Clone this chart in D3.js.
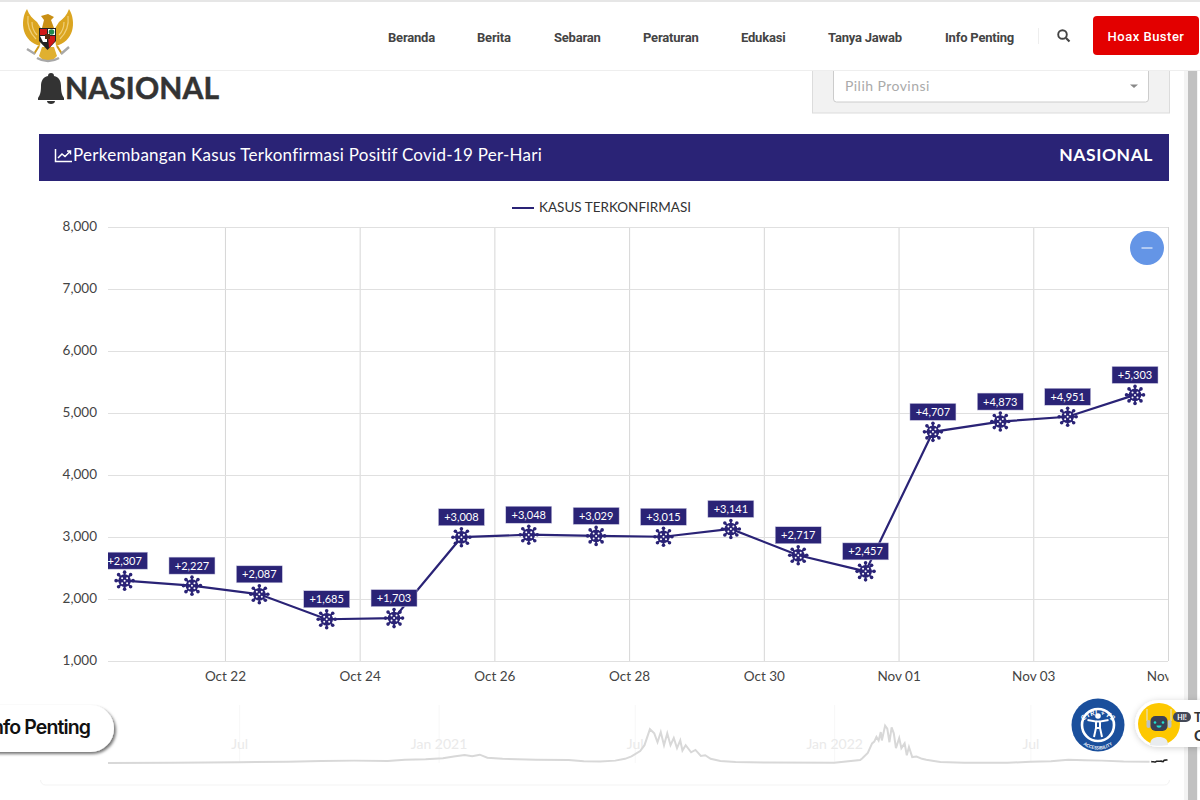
<!DOCTYPE html>
<html>
<head>
<meta charset="utf-8">
<style>
  html, body { margin: 0; padding: 0; background: #fff; overflow: hidden; }
  svg { display: block; }
  text { font-family: Lato, sans-serif; }
</style>
<script src="https://cdn.jsdelivr.net/npm/d3@7"></script>
</head>
<body>
<svg id="page" width="1200" height="800"></svg>
<script>
var dailyDates = ['2022-10-20','2022-10-21','2022-10-22','2022-10-23','2022-10-24','2022-10-25','2022-10-26','2022-10-27',
  '2022-10-28','2022-10-29','2022-10-30','2022-10-31','2022-11-01','2022-11-02','2022-11-03','2022-11-04'];
var dailyValues = [2307,2227,2087,1685,1703,3008,3048,3029,3015,3141,2717,2457,4707,4873,4951,5303];
var yTicks = [1000,2000,3000,4000,5000,6000,7000,8000];
var xTicks = ['2022-10-22','2022-10-24','2022-10-26','2022-10-28','2022-10-30','2022-11-01','2022-11-03','2022-11-05'];

// overview strip
var navDates = ['2020-03-02','2020-05-01','2020-07-01','2020-08-15','2020-09-15','2020-10-15','2020-11-15','2020-12-01','2020-12-20',
  '2021-01-05','2021-01-15','2021-01-25','2021-02-01','2021-02-08','2021-02-15','2021-03-01','2021-04-01','2021-05-01','2021-05-15',
  '2021-05-30','2021-06-13','2021-06-22','2021-06-28','2021-07-06','2021-07-10','2021-07-15','2021-07-19','2021-07-22','2021-07-25',
  '2021-07-28','2021-07-31','2021-08-03','2021-08-06','2021-08-09','2021-08-12','2021-08-14','2021-08-17','2021-08-22','2021-08-26',
  '2021-08-31','2021-09-04','2021-09-09','2021-09-18','2021-10-02','2021-11-01','2022-01-01','2022-01-25','2022-01-27','2022-02-01',
  '2022-02-05','2022-02-07','2022-02-09','2022-02-11','2022-02-13','2022-02-14','2022-02-17','2022-02-19','2022-02-21','2022-02-23',
  '2022-02-25','2022-02-27','2022-03-02','2022-03-04','2022-03-07','2022-03-09','2022-03-11','2022-03-14','2022-03-18','2022-03-23',
  '2022-03-27','2022-04-03','2022-04-09','2022-05-01','2022-06-10','2022-07-01','2022-07-20','2022-08-05','2022-08-20','2022-09-05',
  '2022-09-25','2022-10-19'];
var navValues = [0,400,1300,2200,3500,4000,3500,5500,6500,8000,11000,13500,11500,14000,9000,7000,5500,5000,3000,2500,4000,7000,11000,
  20000,30000,57000,50000,35000,52000,30000,50000,30000,42000,25000,38000,21000,30000,18000,22000,12000,13000,7000,3500,1500,700,300,
  5000,8000,17000,33000,36000,44000,38000,52000,38000,63000,58000,35000,60000,50000,25000,42000,25000,33000,13000,27000,10000,11000,
  7000,5500,3500,1800,500,350,2000,3000,5500,4500,4000,2500,2000];
var navTicks = ['2020-07-01','2021-01-01','2021-07-01','2022-01-01','2022-07-01'];
var navTickLabels = ['Jul','Jan 2021','Jul','Jan 2022','Jul'];

var navItems = ['Beranda','Berita','Sebaran','Peraturan','Edukasi','Tanya Jawab','Info Penting'];
var navItemX = [388,477,554,643,741,828,945];

var INDIGO = '#2a2376';
var parseDay = d3.timeParse('%Y-%m-%d');
var svg = d3.select('#page');
var defs = svg.append('defs');

defs.append('clipPath').attr('id', 'plot-clip').append('rect')
  .attr('x', 108).attr('y', 200).attr('width', 1060).attr('height', 500);
var soft = defs.append('filter').attr('id', 'soft').attr('x', '-20%').attr('y', '-30%').attr('width', '150%').attr('height', '170%');
soft.append('feDropShadow').attr('dx', 2).attr('dy', 2).attr('stdDeviation', 1.5).attr('flood-color', '#000').attr('flood-opacity', 0.55);
var softer = defs.append('filter').attr('id', 'softer').attr('x', '-20%').attr('y', '-30%').attr('width', '150%').attr('height', '170%');
softer.append('feDropShadow').attr('dx', 0).attr('dy', 1).attr('stdDeviation', 3).attr('flood-color', '#000').attr('flood-opacity', 0.18);

// page scrollbar
svg.append('rect').attr('x', 1184).attr('y', 70).attr('width', 14).attr('height', 730).attr('fill', '#f4f4f4');
svg.append('rect').attr('x', 1188).attr('y', 70).attr('width', 9).attr('height', 730).attr('fill', '#c1c1c1');

// ---- heading row
var bell = svg.append('g').attr('fill', '#333');
bell.append('path').attr('d', 'M51 73c2 0 3 1 3 3 5 1 7 5 7 10 0 6 1 9 3 12v2H38v-2c2-3 3-6 3-12 0-5 2-9 7-10 0-2 1-3 3-3z');
bell.append('path').attr('d', 'M47 101h8c0 2-2 3-4 3s-4-1-4-3z');
svg.append('text').attr('x', 65).attr('y', 99).attr('font-size', 30).attr('font-weight', 700).attr('letter-spacing', 0.15)
  .attr('fill', '#333').attr('stroke', '#333').attr('stroke-width', 0.5).text('NASIONAL');

// province filter
svg.append('rect').attr('x', 812.5).attr('y', 60).attr('width', 357).attr('height', 53).attr('fill', '#f2f2f2').attr('stroke', '#dcdcdc');
svg.append('rect').attr('x', 833.5).attr('y', 60).attr('width', 315).attr('height', 42).attr('rx', 3).attr('fill', '#fff').attr('stroke', '#ccc');
svg.append('text').attr('x', 845).attr('y', 91).attr('font-size', 14).attr('letter-spacing', 0.45).attr('fill', '#aaa').text('Pilih Provinsi');
svg.append('path').attr('d', 'M1130 84.5h8l-4 3.5z').attr('fill', '#888');

// ---- header
svg.append('rect').attr('x', 0).attr('y', 0).attr('width', 1200).attr('height', 70).attr('fill', '#fff');
svg.append('rect').attr('x', 0).attr('y', 0).attr('width', 1200).attr('height', 2).attr('fill', '#e6e6e6');
svg.append('rect').attr('x', 0).attr('y', 70).attr('width', 1200).attr('height', 1).attr('fill', '#eee');

svg.selectAll('.menu').data(navItems).enter().append('text')
  .attr('class', 'menu')
  .attr('x', function(d, i){ return navItemX[i] })
  .attr('y', 42)
  .attr('font-size', 13)
  .attr('font-weight', 700)
  .attr('letter-spacing', -0.2)
  .attr('fill', '#444')
  .style('font-family', 'Roboto, sans-serif')
  .text(function(d){ return d });

svg.append('line').attr('x1', 1038.5).attr('x2', 1038.5).attr('y1', 28).attr('y2', 44).attr('stroke', '#eee');
svg.append('circle').attr('cx', 1062.5).attr('cy', 34.5).attr('r', 4.3).attr('fill', 'none').attr('stroke', '#444').attr('stroke-width', 1.9);
svg.append('line').attr('x1', 1066).attr('y1', 38).attr('x2', 1069.5).attr('y2', 41.5).attr('stroke', '#444').attr('stroke-width', 2.2);

svg.append('rect').attr('x', 1093).attr('y', 16).attr('width', 106).attr('height', 39).attr('rx', 4).attr('fill', '#e30000');
svg.append('text').attr('x', 1146).attr('y', 41).attr('text-anchor', 'middle').attr('font-size', 13)
  .attr('font-weight', 500).attr('letter-spacing', 0.5).attr('fill', '#fff').style('font-family', 'Roboto, sans-serif').text('Hoax Buster');

// garuda logo, rough shapes
var garuda = svg.append('g');
garuda.append('path').attr('fill', '#dba520').attr('d', 'M27 9c-4 6-5 15-3 22 2 7 8 13 16 15l2-16-5-8c-4-3-8-7-10-13z');
garuda.append('path').attr('fill', '#dba520').attr('d', 'M69 9c4 6 5 15 3 22-2 7-8 13-16 15l-2-16 5-8c4-3 8-7 10-13z');
garuda.append('path').attr('fill', 'none').attr('stroke', '#f0cf78').attr('stroke-width', 1.2)
  .attr('d', 'M28 16c-1 8 1 16 8 23M32 22c0 5 2 10 5 13M68 16c1 8-1 16-8 23M64 22c0 5-2 10-5 13');
garuda.append('path').attr('fill', '#c98f14').attr('d', 'M41 16l7-2 6 3-3 3 3 8H42l2-8z');
garuda.append('path').attr('fill', '#e0b030').attr('d', 'M42 47h12l3 9-5 5h-8l-5-5z');
garuda.append('path').attr('fill', 'none').attr('stroke', '#cf9a18').attr('stroke-width', 2).attr('d', 'M39 46l-5 8M57 46l5 8');
garuda.append('path').attr('fill', '#222').attr('d', 'M39 28h17v13l-8.500 9L39 41z');
garuda.append('path').attr('fill', '#d01818').attr('d', 'M40 29h7v6h-7z');
garuda.append('path').attr('fill', '#fff').attr('d', 'M48 29h7v6h-7z');
garuda.append('circle').attr('cx', 51.500).attr('cy', 32).attr('r', 2.800).attr('fill', '#1f8a4c');
garuda.append('path').attr('fill', '#fff').attr('d', 'M40 36h7v6l-4 0z');
garuda.append('path').attr('fill', '#d01818').attr('d', 'M48 36h7v5l-6 7z');
garuda.append('rect').attr('x', 45).attr('y', 34).attr('width', 5).attr('height', 5).attr('fill', '#5a2b12');
garuda.append('path').attr('fill', 'none').attr('stroke', '#a8a8a8').attr('stroke-width', 2.400)
  .attr('d', 'M27 49l8 5M69 47l-8 7M37 58c7 4 15 4 22 0');

// ---- chart title band
svg.append('rect').attr('x', 39).attr('y', 134).attr('width', 1130).attr('height', 47).attr('fill', INDIGO);
svg.append('path').attr('fill', 'none').attr('stroke', '#fff').attr('stroke-width', 1.500)
  .attr('d', 'M55.500 149v12.500H72M58 158l4-4 3 2.500 5-5M67 151h3.500v3.500');
svg.append('text').attr('x', 73).attr('y', 161).attr('font-size', 17).attr('letter-spacing', 0.265).attr('fill', '#fff')
  .text('Perkembangan Kasus Terkonfirmasi Positif Covid-19 Per-Hari');
svg.append('text').attr('x', 1153).attr('y', 161).attr('text-anchor', 'end').attr('font-size', 17.5).attr('font-weight', 700)
  .attr('letter-spacing', 0.55).attr('fill', '#fff').text('NASIONAL');

// legend
svg.append('line').attr('x1', 512).attr('x2', 534).attr('y1', 208).attr('y2', 208).attr('stroke', INDIGO).attr('stroke-width', 2);
svg.append('text').attr('x', 539).attr('y', 212).attr('font-size', 13.500).attr('fill', '#333').text('KASUS TERKONFIRMASI');

// ---- main chart
var dates = dailyDates.map(function(d){ return d3.timeHour.offset(parseDay(d), 12) });
var x = d3.scaleTime()
  .domain([d3.timeParse('%Y-%m-%d %H:%M')('2022-10-20 06:20'), parseDay('2022-11-05')])
  .range([108, 1168]);
var y = d3.scaleLinear().domain([1000, 8000]).range([661, 227]);

var yAxis = d3.axisLeft(y).tickValues(yTicks).tickFormat(d3.format(',')).tickSize(-1060).tickPadding(11);
var xAxis = d3.axisBottom(x).tickValues(xTicks.map(parseDay)).tickFormat(d3.timeFormat('%b %d')).tickSize(-434).tickPadding(10);

var gx = svg.append('g').attr('transform', 'translate(0,661)').call(xAxis);
var gy = svg.append('g').attr('transform', 'translate(108,0)').call(yAxis);
[gx, gy].forEach(function(g){
  g.select('.domain').remove();
  g.selectAll('text').attr('font-size', 13.5).attr('fill', '#444').style('font-family', 'Lato, sans-serif');
});
gx.selectAll('line').attr('stroke', '#d6d6d6');
gy.selectAll('line').attr('stroke', '#e0e0e0');
gy.selectAll('text').attr('dy', '0.25em');
// last tick runs past the plot edge, same as the site
gx.selectAll('.tick').filter(function(d, i){ return i == xTicks.length - 1 }).select('text')
  .attr('clip-path', 'url(#nov-clip)');
defs.append('clipPath').attr('id', 'nov-clip').append('rect').attr('x', -30).attr('y', 0).attr('width', 30).attr('height', 40);

var line = d3.line()
  .x(function(d, i){ return x(dates[i]) })
  .y(function(d){ return y(d) });

var plotClip = svg.append('g').attr('clip-path', 'url(#plot-clip)');
var plot = plotClip.append('g').attr('transform', 'translate(0.7,0.7)');
plot.append('path').datum(dailyValues)
  .attr('fill', 'none').attr('stroke', INDIGO).attr('stroke-width', 2.2).attr('d', line);

var spikes = d3.range(8).map(function(i){ return i * Math.PI / 4 });
var marks = plot.selectAll('.mark').data(dailyValues).enter().append('g')
  .attr('class', 'mark')
  .attr('transform', function(d, i){ return 'translate(' + x(dates[i]) + ',' + y(d) + ')' });

marks.selectAll('.spike').data(spikes).enter().append('line')
  .attr('x1', 0).attr('y1', 0)
  .attr('x2', function(a){ return Math.cos(a) * 8 })
  .attr('y2', function(a){ return Math.sin(a) * 8 })
  .attr('stroke', INDIGO).attr('stroke-width', 1.8);
marks.selectAll('.tip').data(spikes).enter().append('circle')
  .attr('cx', function(a){ return Math.cos(a) * 8.500 })
  .attr('cy', function(a){ return Math.sin(a) * 8.500 })
  .attr('r', 1.800).attr('fill', INDIGO);
marks.append('circle').attr('r', 6.300).attr('fill', INDIGO);
marks.selectAll('.spot').data([[-2.5,-2.5],[2.5,-2.5],[0,0],[-2.5,2.5],[2.5,2.5]]).enter().append('circle')
  .attr('cx', function(p){ return p[0] }).attr('cy', function(p){ return p[1] })
  .attr('r', 1).attr('fill', '#fff');

var badges = plot.selectAll('.badge').data(dailyValues).enter().append('g')
  .attr('class', 'badge')
  .attr('transform', function(d, i){ return 'translate(' + x(dates[i]) + ',' + y(d) + ')' });
badges.append('rect').attr('x', -23).attr('y', -28.500).attr('width', 46).attr('height', 17)
  .attr('fill', INDIGO).attr('stroke', '#cfcde4').attr('stroke-width', 0.500);
badges.append('text').attr('y', -16).attr('text-anchor', 'middle').attr('font-size', 11).attr('fill', '#fff')
  .text(function(d){ return '+' + d3.format(',')(d) });

// zoom toggle
svg.append('circle').attr('cx', 1147).attr('cy', 248).attr('r', 17).attr('fill', '#6495e6');
svg.append('line').attr('x1', 1141.500).attr('x2', 1152.500).attr('y1', 248).attr('y2', 248).attr('stroke', '#fff').attr('stroke-width', 1);

// ---- overview strip, washed out
var nx = d3.scaleTime().domain([parseDay('2020-03-02'), parseDay('2022-11-05')]).range([108, 1168]);
var ny = d3.scaleLinear().domain([0, 64000]).range([763, 725]);

svg.append('rect').attr('x', 40.500).attr('y', 770).attr('width', 1129).attr('height', 15).attr('rx', 5)
  .attr('fill', 'none').attr('stroke', '#f3f3f3');
svg.append('rect').attr('x', 39).attr('y', 765).attr('width', 1132).attr('height', 15).attr('fill', '#fff');

var navAxis = d3.axisBottom(nx).tickValues(navTicks.map(parseDay)).tickSize(-58)
  .tickFormat(function(d, i){ return navTickLabels[i] }).tickPadding(-24);
var gn = svg.append('g').attr('transform', 'translate(0,763)').call(navAxis);
gn.select('.domain').remove();
gn.selectAll('line').attr('stroke', '#f7f7f7');
gn.selectAll('text').attr('font-size', 14).attr('fill', '#eaeaea').style('font-family', 'Lato, sans-serif');

var navLine = d3.line()
  .x(function(d, i){ return nx(parseDay(navDates[i])) })
  .y(function(d){ return ny(d) });
svg.append('path').datum(navValues).attr('fill', 'none').attr('stroke', '#d8d8d8').attr('stroke-width', 2).attr('d', navLine);

var selLine = d3.line()
  .x(function(d, i){ return nx(dates[i]) })
  .y(function(d){ return ny(d) });
svg.append('path').datum(dailyValues).attr('fill', 'none').attr('stroke', '#222').attr('stroke-width', 1.600).attr('d', selLine);

// ---- floating widgets
svg.append('rect').attr('x', -30).attr('y', 705).attr('width', 144).attr('height', 47).attr('rx', 23.500)
  .attr('fill', '#fff').attr('filter', 'url(#soft)');
svg.append('text').attr('x', 90).attr('y', 734).attr('text-anchor', 'end').attr('font-size', 19.5).attr('font-weight', 600)
  .attr('letter-spacing', -0.9).attr('fill', '#111').style('font-family', 'Inter, sans-serif').text('Info Penting');

var access = svg.append('g').attr('transform', 'translate(1098,725)');
access.append('circle').attr('r', 26.500).attr('fill', '#1a4f9c');
access.append('circle').attr('r', 16).attr('fill', 'none').attr('stroke', '#fff').attr('stroke-width', 2.600);
access.append('circle').attr('cy', -9).attr('r', 2.800).attr('fill', '#fff');
access.append('path').attr('fill', 'none').attr('stroke', '#fff').attr('stroke-width', 2)
  .attr('d', 'M-10.500 -5L-2 -3.500V3L-4 12M10.500 -5L2 -3.500V3L4 12M-2 -3.500H2M-2 3H2');
defs.append('path').attr('id', 'arc-top').attr('d', 'M-20 6A20.500 20.500 0 0 1 20 6');
defs.append('path').attr('id', 'arc-bottom').attr('d', 'M-24 4A24.300 24.300 0 0 0 24 4');
access.append('text').attr('font-size', 7).attr('font-weight', 700).attr('fill', '#fff').attr('text-anchor', 'middle')
  .append('textPath').attr('href', '#arc-top').attr('startOffset', '50%').text('CTRL + F2');
access.append('text').attr('font-size', 4.500).attr('font-weight', 700).attr('fill', '#fff').attr('text-anchor', 'middle')
  .append('textPath').attr('href', '#arc-bottom').attr('startOffset', '50%').text('ACCESSIBILITY');

svg.append('rect').attr('x', 1135).attr('y', 700).attr('width', 90).attr('height', 47).attr('rx', 23.500)
  .attr('fill', '#fff').attr('filter', 'url(#softer)');
var bot = svg.append('g').attr('transform', 'translate(1159,724)');
bot.append('circle').attr('r', 21).attr('fill', '#fdc800');
bot.append('path').attr('d', 'M-9 21c0-6 4-8 9-8s9 2 9 8c-3 1-15 1-18 0z').attr('fill', '#e9ecef');
bot.append('path').attr('d', 'M-12 -15V-3M12 -15V-3').attr('stroke', '#dfe4e8').attr('stroke-width', 1);
bot.append('rect').attr('x', -12.500).attr('y', -4).attr('width', 4).attr('height', 8).attr('rx', 2).attr('fill', '#b9c2ca');
bot.append('rect').attr('x', 8.500).attr('y', -4).attr('width', 4).attr('height', 8).attr('rx', 2).attr('fill', '#b9c2ca');
bot.append('rect').attr('x', -8.500).attr('y', -8).attr('width', 17).attr('height', 15).attr('rx', 5).attr('fill', '#3b4054');
bot.append('circle').attr('cx', -4).attr('cy', -1.500).attr('r', 1.300).attr('fill', '#1fe0d0');
bot.append('circle').attr('cx', 4).attr('cy', -1.500).attr('r', 1.300).attr('fill', '#1fe0d0');
bot.append('path').attr('d', 'M-2.500 1.500h5c0 3-5 3-5 0z').attr('fill', '#1fe0d0');
svg.append('rect').attr('x', 1173).attr('y', 712).attr('width', 18).attr('height', 10).attr('rx', 5).attr('fill', '#434857');
svg.append('text').attr('x', 1182).attr('y', 720).attr('text-anchor', 'middle').attr('font-size', 7).attr('font-weight', 700).attr('fill', '#fff').text('HI!');
svg.append('text').attr('x', 1194).attr('y', 722).attr('font-size', 13).attr('font-weight', 700).attr('fill', '#333').text('T');
svg.append('text').attr('x', 1194).attr('y', 741).attr('font-size', 15).attr('font-weight', 700).attr('fill', '#333').text('C');
</script>
</body>
</html>
